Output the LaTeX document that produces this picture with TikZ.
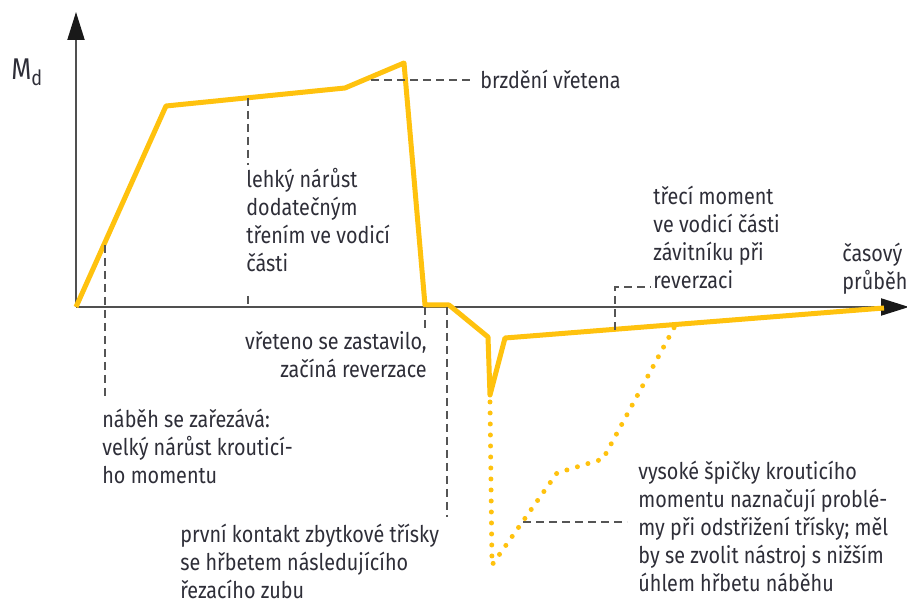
\documentclass[tikz,border=0pt]{standalone}
\usepackage{fontspec}
\setmainfont{Fira Sans}[FakeStretch=0.86]
\usetikzlibrary{arrows.meta}
\definecolor{torqueyellow}{HTML}{FFC20E}
\definecolor{axisgray}{HTML}{505050}
\definecolor{leadgray}{HTML}{555555}
\definecolor{notetext}{HTML}{2E2E38}
\tikzset{
  axisline/.style={draw=axisgray, line width=1pt,
    -{Triangle[length=14pt, width=8.5pt, color=black!90]}},
  torque/.style={draw=torqueyellow, line width=2.5pt, line join=round},
  torquedots/.style={draw=torqueyellow, line width=2.5pt, line cap=round,
    dash pattern=on 0pt off 5.5pt},
  leader/.style={draw=leadgray, line width=0.75pt, dash pattern=on 4pt off 2.5pt},
  note/.style={text=notetext, inner sep=0pt, align=left},
}

\begin{document}
\begin{tikzpicture}[x=0.5pt, y=-0.5pt, font=\fontsize{11.5}{14}\selectfont]
\useasboundingbox (0,0) rectangle (907,603);
% axes
\coordinate (origin) at (76,307);
\coordinate (ytop) at (76,12);
\coordinate (xend) at (909,307);
\draw[axisline] (origin) -- (ytop);
\draw[axisline] (origin) -- (xend);
\node[note, anchor=base west, font=\fontsize{15}{15}\selectfont] (md) at (11,80) {M\textsubscript{d}};
\node[note, anchor=north west] (time) at (842,243) {časový\\průběh};
% torque curve
\coordinate (cut) at (166,106);
\coordinate (rise) at (345,88);
\coordinate (peak) at (404,63);
\coordinate (stop) at (425,305);
\coordinate (contact) at (449,305);
\coordinate (rev) at (488,337);
\coordinate (spike) at (490,395);
\coordinate (back) at (505,338);
\coordinate (tail) at (884,308);
\draw[torque] (origin) -- (cut) -- (rise) -- (peak) -- (stop) -- (contact)
  -- (rev) -- (spike) -- (back) -- (tail);
% high peak (dotted)
\coordinate (dip) at (492,565);
\coordinate (knee) at (557,473);
\coordinate (shelf) at (603,459);
\coordinate (rejoin) at (675,326);
\draw[torquedots] (490,402) -- (dip) -- (knee) -- (shelf) -- (rejoin);
% notes
\node[note, anchor=north west] (brake) at (480,70) {brzdění vřetena};
\node[note, anchor=north west] (light) at (246,168) {lehký nárůst\\dodatečným\\třením ve vodicí\\části};
\node[note, anchor=north east, align=right] (halt) at (427,331) {vřeteno se zastavilo,\\začíná reverzace};
\node[note, anchor=north west] (entry) at (102,409) {náběh se zařezává:\\velký nárůst krouticí-\\ho momentu};
\node[note, anchor=north west] (chip) at (180,524) {první kontakt zbytkové třísky\\se hřbetem následujícího\\řezacího zubu};
\node[note, anchor=north west] (peaks) at (638,461) {vysoké špičky krouticího\\momentu naznačují problé-\\my při odstřižení třísky; měl\\by se zvolit nástroj s nižším\\úhlem hřbetu náběhu};
\node[note, anchor=north west] (friction) at (653,186) {třecí moment\\ve vodicí části\\závitníku při\\reverzaci};
% leaders
\coordinate (entrytop) at (105,245);
\draw[leader] (entrytop) -- (105,400);
\coordinate (lighttop) at (248,98);
\draw[leader] (lighttop) -- (248,165);
\draw[leader] (248,296) -- (248,307);
\coordinate (braketip) at (371,80);
\draw[leader] (braketip) -- (473,80);
\draw[leader] (425,307) -- (425,332);
\draw[leader] (447,307) -- (447,517);
\coordinate (frictionfoot) at (615,330);
\draw[leader] (frictionfoot) -- (615,287) -- (651,287);
\coordinate (peakleft) at (523,522);
\draw[leader] (peakleft) -- (627,522);
\end{tikzpicture}
\end{document}
